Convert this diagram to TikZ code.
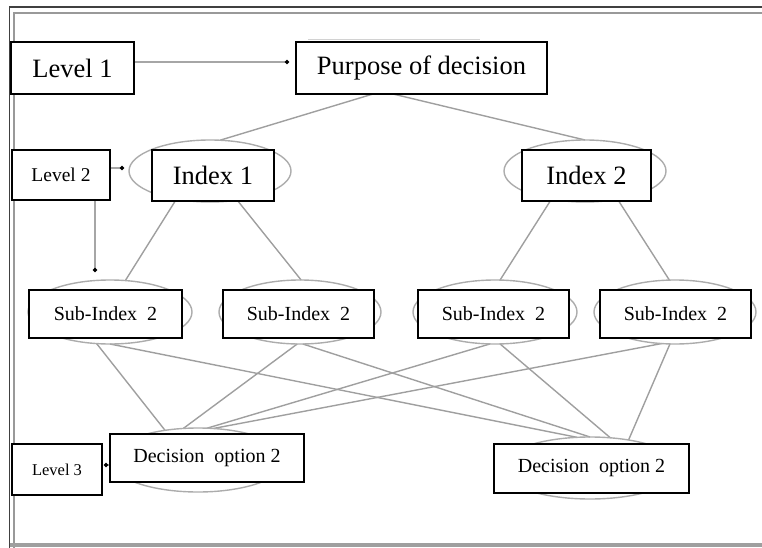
\documentclass[tikz,border=0pt]{standalone}
\usepackage{fontspec}
\setmainfont{Liberation Serif}
\usetikzlibrary{shapes.geometric,arrows.meta}
\pgfdeclarelayer{bg}
\pgfsetlayers{bg,main}
\begin{document}
\begin{tikzpicture}[x=1pt,y=-1pt,
  box/.style={draw=black, line width=1.5pt, fill=white, inner sep=0pt, outer sep=0pt, align=center},
  ell/.style={ellipse, draw=gray!65, line width=1.4pt, inner sep=0pt, outer sep=0pt},
  link/.style={draw=gray!75, line width=1.4pt},
  arr/.style={draw=gray!70, line width=1.3pt, -{Circle[length=4pt, black]}},
  big/.style={font=\fontsize{26.5}{29}\selectfont},
  sub/.style={font=\fontsize{20}{23}\selectfont},
  dec/.style={font=\fontsize{20}{23}\selectfont}]
\useasboundingbox (0,0) rectangle (762,548);
\clip (0,0) rectangle (762,548);
% frame
\draw[black!75, line width=1.8pt] (9.5,600) -- (9.5,7) -- (800,7);
\draw[gray!80, line width=2pt] (13.5,600) -- (13.5,13.5) -- (800,13.5);
\draw[gray!75, line width=3.5pt] (9.5,545) -- (800,545);
% ellipses
\node[ell, minimum width=162pt, minimum height=62pt] (I1e) at (210,171) {};
\node[ell, minimum width=162pt, minimum height=62pt] (I2e) at (585,171) {};
\node[ell, minimum width=164pt, minimum height=64pt] (S1e) at (110,312) {};
\node[ell, minimum width=162pt, minimum height=64pt] (S2e) at (300,312) {};
\node[ell, minimum width=164pt, minimum height=64pt] (S3e) at (495,312) {};
\node[ell, minimum width=162pt, minimum height=64pt] (S4e) at (675,312) {};
\node[ell, minimum width=176pt, minimum height=64pt] (D1e) at (198,460) {};
\node[ell, minimum width=180pt, minimum height=62pt] (D2e) at (590,468) {};
% boxes
\node[box, big, minimum width=123pt, minimum height=52pt] (L1) at (72.5,68) {Level 1};
\node[box, big, minimum width=251pt, minimum height=52pt] (P) at (421.5,68) {Purpose of decision};
\node[box, font=\fontsize{19.5}{22}\selectfont, minimum width=98pt, minimum height=50pt] (L2) at (61,175) {Level 2};
\node[box, big, minimum width=122pt, minimum height=51pt] (I1) at (213,175.5) {Index 1};
\node[box, big, minimum width=129pt, minimum height=51pt] (I2) at (586.5,175.5) {Index 2};
\node[box, sub, minimum width=153pt, minimum height=48pt] (S1) at (105.5,314) {Sub-Index\ \ 2};
\node[box, sub, minimum width=151pt, minimum height=48pt] (S2) at (298.5,314) {Sub-Index\ \ 2};
\node[box, sub, minimum width=151pt, minimum height=48pt] (S3) at (493.5,314) {Sub-Index\ \ 2};
\node[box, sub, minimum width=151pt, minimum height=48pt] (S4) at (675.5,314) {Sub-Index\ \ 2};
\node[box, dec, minimum width=194pt, minimum height=48pt] (D1) at (207,458) {Decision\ \ option 2};
\node[box, dec, minimum width=195pt, minimum height=49pt] (D2) at (591.5,468.5) {Decision\ \ option 2};
\node[box, font=\fontsize{16.5}{19}\selectfont, minimum width=90pt, minimum height=51pt] (L3) at (57,469.5) {Level 3};
\begin{pgfonlayer}{bg}
\draw[gray!35, line width=1pt] (308,40) -- (480,40);
% hierarchy links
\draw[link] ([xshift=-48.5pt]P.south) -- (I1e.72);
\draw[link] ([xshift=-28.5pt]P.south) -- (I2e.90);
\draw[link] (I1e.220.6) -- (S1e.64.5);
\draw[link] (I1e.313) -- (S2e.88);
\draw[link] (I2e.220.6) -- (S3e.81);
\draw[link] (I2e.319.4) -- (S4e.100.6);
\draw[link] (S1e.247.6) -- (D1e.138);
\draw[link] (S1e.270) -- (D2e.113);
\draw[link] (S2e.265) -- (D1e.115.5);
\draw[link] (S2e.275) -- (D2e.90);
\draw[link] (S3e.261) -- (D1e.74);
\draw[link] (S3e.279) -- (D2e.56.5);
\draw[link] (S4e.247.6) -- (D1e.64.5);
\draw[link] (S4e.261) -- (D2e.36.5);
% level arrows
\draw[arr] ([yshift=6pt]L1.east) -- ([xshift=-7pt,yshift=6pt]P.west);
\draw[arr] ([yshift=7pt]L2.east) -- ([xshift=-5pt,yshift=3pt]I1e.west);
\draw[arr] ([xshift=34pt]L2.south) -- ([xshift=34pt,yshift=8pt]L2.south |- S1e.north);
\draw[arr] ([yshift=-7pt]D1.west) -- ([xshift=2pt,yshift=4.5pt]L3.east);
\end{pgfonlayer}
\end{tikzpicture}
\end{document}
